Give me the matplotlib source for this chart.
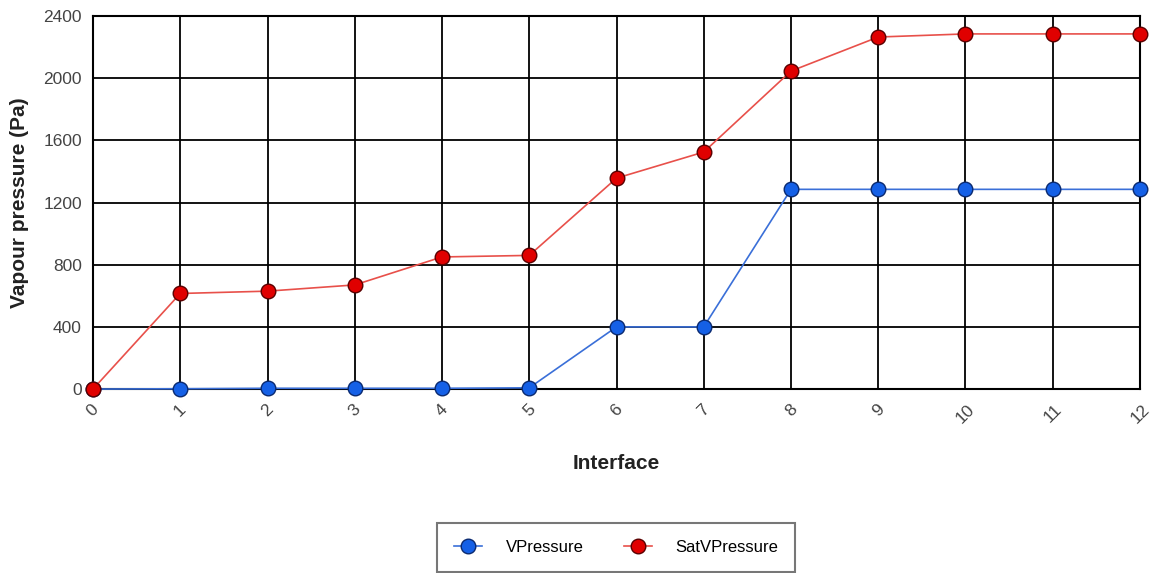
import matplotlib
matplotlib.use("Agg")
import matplotlib.pyplot as plt

plt.rcParams['font.family'] = ['Liberation Sans', 'DejaVu Sans']

interfaces = list(range(13))
tick_labels = [str(i) for i in interfaces]
vpressure = [0, 2, 5, 5, 5, 8, 400, 400, 1285, 1285, 1285, 1285, 1285]
satvpressure = [0, 615, 630, 670, 850, 860, 1357, 1525, 2046, 2265, 2285, 2285, 2285]
yticks = [0, 400, 800, 1200, 1600, 2000, 2400]

fig = plt.figure(figsize=(11.57, 5.73), dpi=100)
ax = fig.add_axes([0.0804, 0.321, 0.9049, 0.651])

ax.plot(interfaces, vpressure, color='#3a6fd8', lw=1.2, marker='o', markersize=10.5,
        markerfacecolor='#1560e6', markeredgecolor='#0a2a70', markeredgewidth=1.0,
        label='VPressure', zorder=4, clip_on=False)
ax.plot(interfaces, satvpressure, color='#e8504a', lw=1.2, marker='o', markersize=10.5,
        markerfacecolor='#e00000', markeredgecolor='#5a0000', markeredgewidth=1.0,
        label='SatVPressure', zorder=5, clip_on=False)

ax.set_xlim(0, 12)
ax.set_ylim(0, 2400)
ax.set_xticks(interfaces)
ax.set_xticklabels(tick_labels, rotation=45, ha='center', fontsize=12.5, color='#444444')
ax.set_yticks(yticks)
ax.set_yticklabels([str(v) for v in yticks], fontsize=12.5, color='#444444')
ax.tick_params(axis='x', length=0, pad=9)
ax.tick_params(axis='y', length=0, pad=8)
ax.grid(True, color='black', lw=1.3)
ax.set_axisbelow(True)
for s in ax.spines.values():
    s.set_color('black')
    s.set_linewidth(1.5)

ax.set_xlabel('Interface', fontsize=15, fontweight='bold', labelpad=20, color='#222222')
ax.set_ylabel('Vapour pressure (Pa)', fontsize=15, fontweight='bold', labelpad=10, color='#222222')

leg = fig.legend(loc='lower center', bbox_to_anchor=(0.5325, -0.012), ncol=2, fontsize=12,
                 frameon=True, fancybox=False, edgecolor='#555555', borderpad=1.0,
                 handlelength=1.7, handletextpad=1.4, columnspacing=2.4, markerscale=1.0)
leg.get_frame().set_linewidth(1.5)

fig.savefig('out.png', dpi=100)
